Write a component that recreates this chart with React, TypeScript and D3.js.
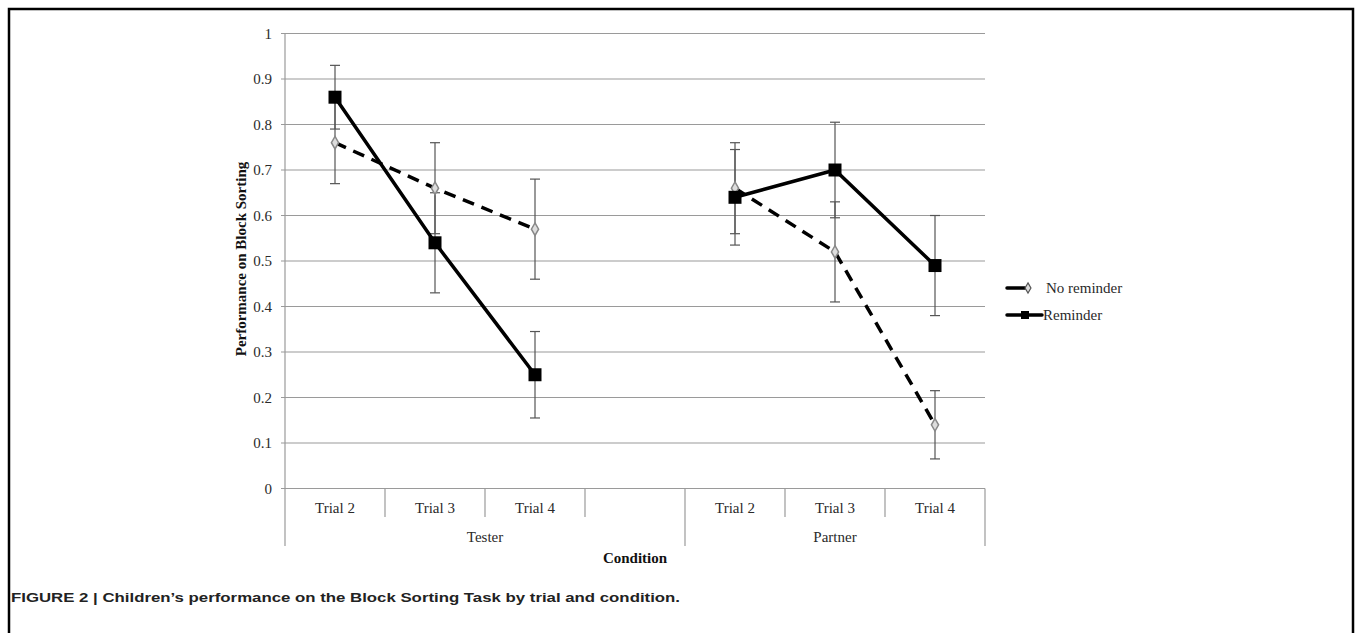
import React from 'react';
import * as d3 from 'd3';

// chart data
const trials = ['Trial 2', 'Trial 3', 'Trial 4'];
const conditions = ['Tester', 'Partner'];
const slots = ['Tester|Trial 2', 'Tester|Trial 3', 'Tester|Trial 4', 'gap', 'Partner|Trial 2', 'Partner|Trial 3', 'Partner|Trial 4'];
const noReminder = [0.76, 0.66, 0.57, 0.66, 0.52, 0.14];
const noReminderErr = [0.09, 0.1, 0.11, 0.1, 0.11, 0.075];
const reminder = [0.86, 0.54, 0.25, 0.64, 0.7, 0.49];
const reminderErr = [0.07, 0.11, 0.095, 0.105, 0.105, 0.11];
const yTicks = [0, 0.1, 0.2, 0.3, 0.4, 0.5, 0.6, 0.7, 0.8, 0.9, 1];

const W = 1357;
const H = 633;
const left = 285;
const right = 985;
const top = 33.5;
const bottom = 488.5;
const serif = '"Liberation Serif", "Times New Roman", serif';
const fs = 15;

const keyOf = (ci, ti) => `${conditions[ci]}|${trials[ti]}`;

const App = () => {
  const x = d3.scaleBand().domain(slots).range([left, right]).paddingInner(0).paddingOuter(0);
  const y = d3.scaleLinear().domain([0, 1]).range([bottom, top]);
  const cx = (k) => x(k) + x.bandwidth() / 2;
  const line = d3.line().x((d) => d[0]).y((d) => d[1]);

  const series = (vals) =>
    conditions.map((c, ci) => trials.map((t, ti) => [cx(keyOf(ci, ti)), y(vals[ci * 3 + ti])]));

  const points = (vals, errs) =>
    conditions.flatMap((c, ci) =>
      trials.map((t, ti) => ({ x: cx(keyOf(ci, ti)), v: vals[ci * 3 + ti], e: errs[ci * 3 + ti] }))
    );

  const square = d3.symbol(d3.symbolSquare, 169)();
  const diamond = d3.symbol(d3.symbolDiamond, 45)();
  const legendSquare = d3.symbol(d3.symbolSquare, 64)();

  const errBars = (pts, key) =>
    pts.map((p, i) => (
      <g key={key + i} stroke="#555" strokeWidth={1.2}>
        <line x1={p.x} x2={p.x} y1={y(p.v + p.e)} y2={y(p.v - p.e)} />
        <line x1={p.x - 5} x2={p.x + 5} y1={y(p.v + p.e)} y2={y(p.v + p.e)} />
        <line x1={p.x - 5} x2={p.x + 5} y1={y(p.v - p.e)} y2={y(p.v - p.e)} />
      </g>
    ));

  const nrPts = points(noReminder, noReminderErr);
  const rPts = points(reminder, reminderErr);

  return (
    <svg width={W} height={H} style={{ position: 'absolute', left: 0, top: 0, background: '#fff' }}>
      <rect x={9} y={9} width={1344} height={H + 20} fill="none" stroke="#000" strokeWidth={2.5} />

      {/* gridlines + y axis */}
      {yTicks.map((t) => (
        <g key={t}>
          <line x1={left - 4} x2={right} y1={y(t)} y2={y(t)} stroke="#9a9a9a" strokeWidth={1.2} />
          <text x={272} y={y(t)} dy="0.35em" textAnchor="end" fontFamily={serif} fontSize={fs} fill="#2a2a2a">
            {String(+t.toFixed(1))}
          </text>
        </g>
      ))}
      <line x1={left} x2={left} y1={top} y2={546} stroke="#9a9a9a" strokeWidth={1.2} />

      {/* category ticks */}
      {slots.map((s, i) => (
        <line key={s} x1={x(s) + x.bandwidth()} x2={x(s) + x.bandwidth()} y1={bottom} y2={i === 3 || i === 6 ? 546 : 517} stroke="#9a9a9a" strokeWidth={1.2} />
      ))}
      {slots.map((s) =>
        s === 'gap' ? null : (
          <text key={'l' + s} x={cx(s)} y={513} textAnchor="middle" fontFamily={serif} fontSize={fs} fill="#2a2a2a">
            {s.split('|')[1]}
          </text>
        )
      )}
      {conditions.map((c, ci) => {
        const a = x(keyOf(ci, 0));
        const b = ci === 0 ? x('gap') + x.bandwidth() : x(keyOf(ci, 2)) + x.bandwidth();
        return (
          <text key={c} x={(a + b) / 2} y={542} textAnchor="middle" fontFamily={serif} fontSize={fs} fill="#2a2a2a">
            {c}
          </text>
        );
      })}
      <text x={(left + right) / 2} y={563} textAnchor="middle" fontFamily={serif} fontSize={fs} fontWeight="bold" fill="#111">
        Condition
      </text>
      <text transform={`translate(246, ${(top + bottom) / 2 - 2}) rotate(-90)`} textAnchor="middle" fontFamily={serif} fontSize={fs} fontWeight="bold" fill="#111">
        Performance on Block Sorting
      </text>

      {/* error bars */}
      {errBars(nrPts, 'nr')}
      {errBars(rPts, 'r')}

      {/* lines */}
      {series(noReminder).map((seg, i) => (
        <path key={'nl' + i} d={line(seg)} fill="none" stroke="#000" strokeWidth={3.5} strokeDasharray="12,8" />
      ))}
      {series(reminder).map((seg, i) => (
        <path key={'rl' + i} d={line(seg)} fill="none" stroke="#000" strokeWidth={3.5} />
      ))}

      {/* markers */}
      {nrPts.map((p, i) => (
        <path key={'nm' + i} d={diamond} transform={`translate(${p.x},${y(p.v)})`} fill="#ddd" stroke="#888" strokeWidth={1.5} />
      ))}
      {rPts.map((p, i) => (
        <path key={'rm' + i} d={square} transform={`translate(${p.x},${y(p.v)})`} fill="#000" />
      ))}

      {/* legend */}
      <g>
        <line x1={1007} x2={1025} y1={288} y2={288} stroke="#000" strokeWidth={3.5} strokeLinecap="round" />
        <path d={d3.symbol(d3.symbolDiamond, 30)()} transform="translate(1028,288)" fill="#ddd" stroke="#555" strokeWidth={1.2} />
        <text x={1046} y={288} dy="0.35em" fontFamily={serif} fontSize={fs} fill="#2a2a2a">
          No reminder
        </text>
        <line x1={1007} x2={1042} y1={315} y2={315} stroke="#000" strokeWidth={3.5} strokeLinecap="round" />
        <path d={legendSquare} transform="translate(1025,315)" fill="#000" />
        <text x={1043} y={315} dy="0.35em" fontFamily={serif} fontSize={fs} fill="#2a2a2a">
          Reminder
        </text>
      </g>

      {/* caption */}
      <text x={11} y={602} fontFamily='"Liberation Sans", Arial, sans-serif' fontSize={13.5} fontWeight="bold" fill="#222" textLength={669} lengthAdjust="spacingAndGlyphs">
        FIGURE 2 | Children’s performance on the Block Sorting Task by trial and condition.
      </text>
    </svg>
  );
};

export default App;
